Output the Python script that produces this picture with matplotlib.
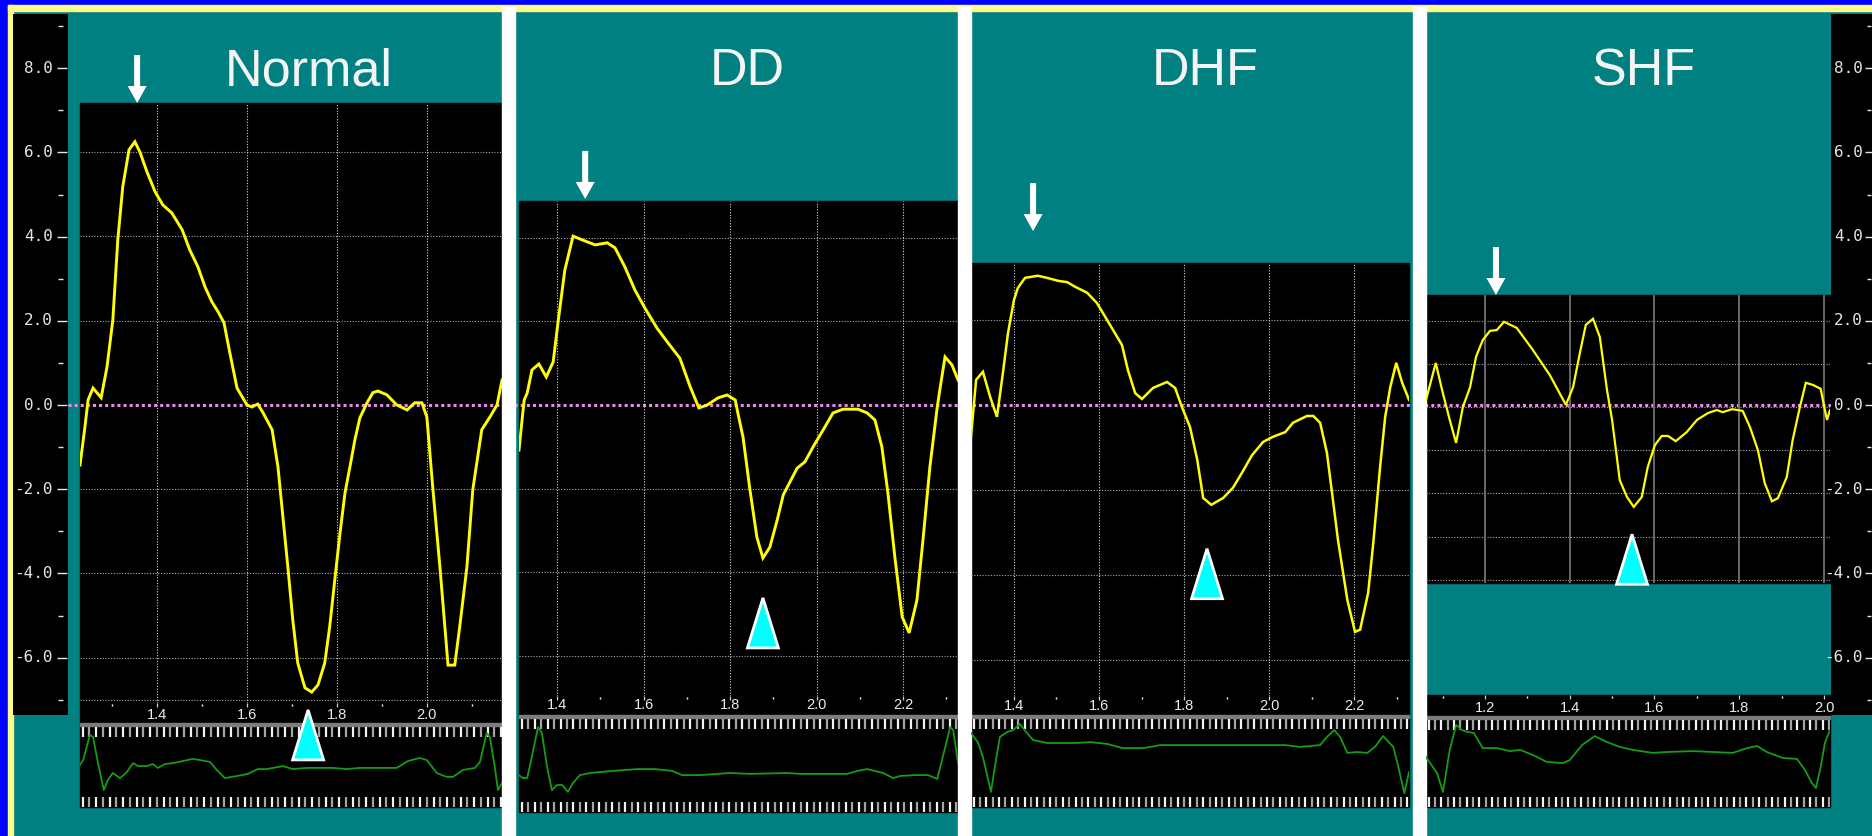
import matplotlib
matplotlib.use('Agg')
import matplotlib.pyplot as plt
import matplotlib.transforms as mtransforms
from matplotlib.patches import Rectangle, Polygon
from matplotlib.lines import Line2D
import numpy as np

W, H = 1872, 836
TEAL = '#008080'

# ---- tissue velocity traces (time s, velocity cm/s) ----
normal_t = [1.229, 1.240, 1.247, 1.258, 1.276, 1.289, 1.302, 1.313, 1.324, 1.338,
            1.351, 1.362, 1.378, 1.396, 1.413, 1.433, 1.456, 1.473, 1.491, 1.507,
            1.522, 1.536, 1.549, 1.562, 1.578, 1.600, 1.611, 1.624, 1.636, 1.656,
            1.669, 1.680, 1.691, 1.702, 1.713, 1.729, 1.744, 1.758, 1.773, 1.784,
            1.796, 1.807, 1.818, 1.829, 1.840, 1.851, 1.867, 1.880, 1.891, 1.911,
            1.933, 1.956, 1.973, 1.989, 2.000, 2.013, 2.029, 2.040, 2.047, 2.062,
            2.073, 2.089, 2.102, 2.122, 2.140, 2.156, 2.167]
normal_v = [-1.43, -0.52, 0.12, 0.40, 0.17, 0.90, 2.02, 3.92, 5.18, 6.06,
            6.25, 6.01, 5.53, 5.06, 4.75, 4.56, 4.16, 3.68, 3.28, 2.80,
            2.45, 2.21, 1.95, 1.24, 0.40, 0.0, -0.05, 0.02, -0.19, -0.59,
            -1.47, -2.66, -3.85, -5.11, -6.13, -6.72, -6.82, -6.65, -6.13, -5.27,
            -4.09, -3.04, -2.09, -1.47, -0.83, -0.31, 0.05, 0.29, 0.33, 0.24,
            0.0, -0.12, 0.05, 0.05, -0.29, -1.95, -3.85, -5.27, -6.18, -6.18,
            -5.27, -3.85, -2.02, -0.59, -0.29, 0.0, 0.59]

dd_t = [1.312, 1.319, 1.324, 1.331, 1.342, 1.358, 1.375, 1.391, 1.402, 1.418,
        1.437, 1.458, 1.488, 1.516, 1.534, 1.557, 1.580, 1.603, 1.631, 1.657,
        1.684, 1.708, 1.728, 1.747, 1.772, 1.793, 1.812, 1.818, 1.830, 1.846,
        1.862, 1.876, 1.892, 1.909, 1.923, 1.955, 1.973, 1.992, 2.015, 2.038,
        2.061, 2.096, 2.117, 2.135, 2.151, 2.165, 2.181, 2.198, 2.214, 2.232,
        2.246, 2.262, 2.279, 2.286, 2.297, 2.313, 2.327]
dd_v = [-1.08, -0.36, 0.12, 0.29, 0.84, 0.98, 0.67, 1.03, 1.96, 3.23,
        4.04, 3.95, 3.83, 3.88, 3.76, 3.30, 2.75, 2.32, 1.84, 1.48,
        1.12, 0.43, -0.07, 0.0, 0.17, 0.24, 0.12, -0.19, -0.77, -2.03,
        -3.16, -3.66, -3.40, -2.75, -2.15, -1.51, -1.36, -1.00, -0.60, -0.19,
        -0.10, -0.10, -0.19, -0.36, -1.00, -2.11, -3.64, -5.07, -5.45, -4.67,
        -3.23, -1.48, -0.05, 0.43, 1.15, 0.96, 0.60]

dhf_t = [1.299, 1.304, 1.311, 1.327, 1.344, 1.360, 1.374, 1.386, 1.400, 1.409,
         1.426, 1.456, 1.478, 1.504, 1.525, 1.544, 1.572, 1.595, 1.619, 1.654,
         1.668, 1.685, 1.701, 1.727, 1.760, 1.779, 1.795, 1.814, 1.831, 1.845,
         1.864, 1.892, 1.915, 1.936, 1.960, 1.986, 2.009, 2.038, 2.056, 2.089,
         2.104, 2.120, 2.136, 2.148, 2.162, 2.184, 2.202, 2.214, 2.233, 2.245,
         2.261, 2.273, 2.285, 2.299, 2.313, 2.329]
dhf_v = [-0.75, -0.19, 0.59, 0.78, 0.19, -0.28, 0.75, 1.69, 2.47, 2.75,
         2.99, 3.04, 2.99, 2.92, 2.89, 2.78, 2.64, 2.40, 2.00, 1.41,
         0.82, 0.28, 0.14, 0.40, 0.54, 0.40, -0.05, -0.52, -1.29, -2.19,
         -2.35, -2.19, -1.95, -1.60, -1.18, -0.87, -0.75, -0.64, -0.42, -0.26,
         -0.26, -0.42, -1.13, -2.07, -3.18, -4.59, -5.34, -5.29, -4.42, -3.25,
         -1.46, -0.28, 0.42, 0.99, 0.52, 0.12]

shf_t = [1.061, 1.084, 1.099, 1.117, 1.132, 1.148, 1.165, 1.179, 1.195, 1.212,
         1.228, 1.245, 1.275, 1.313, 1.353, 1.391, 1.408, 1.424, 1.438, 1.455,
         1.471, 1.488, 1.500, 1.518, 1.535, 1.551, 1.570, 1.584, 1.601, 1.617,
         1.632, 1.650, 1.676, 1.700, 1.726, 1.747, 1.761, 1.783, 1.808, 1.825,
         1.844, 1.860, 1.877, 1.891, 1.912, 1.926, 1.943, 1.957, 1.974, 1.992,
         2.002, 2.007, 2.014]
shf_v = [0.16, 1.02, 0.39, -0.30, -0.83, 0.0, 0.46, 1.16, 1.55, 1.76,
         1.78, 1.97, 1.83, 1.32, 0.74, 0.05, 0.46, 1.25, 1.90, 2.04,
         1.62, 0.39, -0.30, -1.69, -2.08, -2.31, -2.08, -1.39, -0.88, -0.67,
         -0.67, -0.79, -0.58, -0.30, -0.14, -0.07, -0.12, -0.05, -0.09, -0.46,
         -1.00, -1.76, -2.18, -2.11, -1.62, -0.76, 0.0, 0.56, 0.51, 0.42,
         -0.07, -0.30, -0.07]

# ---- ECG strips (arbitrary units) ----
normal_ecg_t = [1.229, 1.236, 1.251, 1.258, 1.269, 1.282, 1.291, 1.302, 1.318, 1.333,
                1.347, 1.358, 1.378, 1.391, 1.402, 1.418, 1.436, 1.458, 1.480, 1.496,
                1.518, 1.533, 1.551, 1.578, 1.602, 1.624, 1.644, 1.680, 1.702, 1.733,
                1.762, 1.791, 1.822, 1.851, 1.933, 1.958, 1.984, 2.000, 2.022, 2.044,
                2.058, 2.080, 2.107, 2.118, 2.133, 2.140, 2.151, 2.158, 2.167]
normal_ecg = [0.17, 0.33, 1.17, 1.10, 0.23, -0.67, -0.33, -0.10, -0.27, -0.07,
              0.23, 0.13, 0.13, 0.20, 0.07, 0.20, 0.23, 0.30, 0.37, 0.33,
              0.27, 0.0, -0.27, -0.20, -0.13, 0.03, 0.03, 0.13, 0.03, 0.07,
              0.07, 0.07, 0.03, 0.07, 0.07, 0.30, 0.40, 0.33, -0.10, -0.23,
              -0.23, 0.0, 0.07, 0.27, 1.23, 1.10, 0.10, -0.67, -0.43]

dd_ecg_t = [1.312, 1.321, 1.331, 1.345, 1.356, 1.365, 1.377, 1.388, 1.400, 1.412,
            1.425, 1.437, 1.453, 1.476, 1.529, 1.585, 1.627, 1.666, 1.689, 1.731,
            1.800, 1.846, 1.932, 1.962, 2.071, 2.094, 2.117, 2.154, 2.177, 2.193,
            2.228, 2.258, 2.279, 2.290, 2.309, 2.316, 2.327]
dd_ecg = [-0.17, -0.27, -0.27, 0.67, 1.43, 1.23, 0.10, -0.67, -0.50, -0.50,
          -0.73, -0.43, -0.17, -0.10, -0.03, 0.03, 0.03, -0.03, -0.17, -0.17,
          -0.10, -0.13, -0.10, -0.13, -0.13, -0.03, 0.03, -0.10, -0.27, -0.20,
          -0.17, -0.17, -0.30, 0.33, 1.43, 1.33, 0.23]

dhf_ecg_t = [1.299, 1.315, 1.327, 1.346, 1.355, 1.367, 1.384, 1.398, 1.414, 1.431,
             1.445, 1.478, 1.548, 1.579, 1.619, 1.656, 1.704, 1.744, 1.821, 1.901,
             2.038, 2.073, 2.120, 2.136, 2.153, 2.167, 2.184, 2.207, 2.231, 2.249,
             2.268, 2.292, 2.304, 2.318, 2.329]
dhf_ecg = [1.23, 0.93, 0.43, -0.73, 0.10, 1.10, 1.27, 1.33, 1.53, 1.23,
           1.00, 0.90, 0.90, 0.93, 0.87, 0.73, 0.73, 0.83, 0.83, 0.83,
           0.83, 0.77, 0.83, 1.10, 1.33, 1.10, 0.57, 0.60, 0.57, 0.77,
           1.13, 0.77, 0.10, -0.77, -0.07]

shf_ecg_t = [1.061, 1.087, 1.101, 1.117, 1.132, 1.146, 1.160, 1.174, 1.195, 1.228,
             1.259, 1.283, 1.313, 1.346, 1.384, 1.400, 1.429, 1.459, 1.488, 1.518,
             1.549, 1.596, 1.629, 1.691, 1.785, 1.818, 1.842, 1.865, 1.903, 1.936,
             1.955, 1.971, 1.981, 1.992, 2.002, 2.014]
shf_ecg = [0.43, -0.10, -0.73, 0.67, 1.50, 1.33, 1.27, 1.23, 0.73, 0.73,
           0.63, 0.67, 0.50, 0.27, 0.23, 0.33, 0.83, 1.13, 0.93, 0.77,
           0.67, 0.57, 0.60, 0.63, 0.57, 0.73, 0.80, 0.60, 0.40, 0.37,
           0.0, -0.43, -0.60, 0.10, 0.90, 1.33]

titles = ['Normal', 'DD', 'DHF', 'SHF']
traces = [(normal_t, normal_v), (dd_t, dd_v), (dhf_t, dhf_v), (shf_t, shf_v)]
ecgs = [(normal_ecg_t, normal_ecg), (dd_ecg_t, dd_ecg), (dhf_ecg_t, dhf_ecg), (shf_ecg_t, shf_ecg)]

# Sm peak arrows (tip) and Am trough triangles (apex)
sm_t = [1.356, 1.465, 1.445, 1.226]
sm_v = [7.17, 4.93, 4.09, 2.59]
am_t = [1.736, 1.876, 1.854, 1.547]
am_v = [-7.22, -4.59, -3.36, -2.92]

x_major = [[1.4, 1.6, 1.8, 2.0], [1.4, 1.6, 1.8, 2.0, 2.2],
           [1.4, 1.6, 1.8, 2.0, 2.2], [1.2, 1.4, 1.6, 1.8, 2.0]]
x_minor = [[1.3, 1.5, 1.7, 1.9, 2.1], [1.5, 1.7, 1.9, 2.1, 2.3],
           [1.5, 1.7, 1.9, 2.1, 2.3], [1.1, 1.3, 1.5, 1.7, 1.9]]
y_grid = [[-7, -6, -4, -2, 2, 4, 6], [-6, -4, -2, 2, 4],
          [-6, -4, -2, 2], [-4, -3, -2, -1, 0, 1, 2]]
axis_major = [-6, -4, -2, 0, 2, 4, 6, 8]
axis_minor = [-7, -5, -3, -1, 1, 3, 5, 7, 9]

# panel layout in pixels
layout = [
    dict(x0=80, x1=502, top=103, bottom=703, strip=703, sep=725, end=807, label_y=715,
         xlim=(1.229, 2.167), ylim=(-7.08, 7.17), title_x=309, lw=2.1,
         black=[(103, 807)], solid_vgrid=False),
    dict(x0=519, x1=958, top=201, bottom=696, strip=696, sep=717, end=812, label_y=705,
         xlim=(1.312, 2.327), ylim=(-6.96, 4.88), title_x=747, lw=2.1,
         black=[(201, 812)], solid_vgrid=False),
    dict(x0=971, x1=1409, top=263, bottom=696, strip=696, sep=717, end=807, label_y=706,
         xlim=(1.299, 2.329), ylim=(-6.85, 3.34), title_x=1205, lw=1.8,
         black=[(263, 807)], solid_vgrid=False),
    dict(x0=1426, x1=1830, top=295, bottom=583, strip=695, sep=718, end=807, label_y=708,
         xlim=(1.061, 2.014), ylim=(-4.07, 2.59), title_x=1644, lw=1.6,
         black=[(295, 583), (695, 807)], solid_vgrid=True),
]

fig = plt.figure(figsize=(W / 100, H / 100), dpi=100)
fig.patch.set_facecolor(TEAL)


def px_axes(x0, y0, x1, y1, z):
    return fig.add_axes([x0 / W, 1 - y1 / H, (x1 - x0) / W, (y1 - y0) / H], zorder=z)


def px_shape(ax, t, v, verts, **kw):
    # polygon given in pixel offsets around a data point
    trans = fig.dpi_scale_trans + mtransforms.ScaledTranslation(t, v, ax.transData)
    ax.add_patch(Polygon(np.array(verts) / 100.0, closed=True, transform=trans,
                         clip_on=False, **kw))


# background: frame, black screens, titles
bg = fig.add_axes([0, 0, 1, 1], zorder=0)
bg.set_xlim(0, W)
bg.set_ylim(H, 0)
bg.axis('off')
bg.add_patch(Rectangle((0, 0), W, 5, color='#0000ff'))
bg.add_patch(Rectangle((0, 0), 8, H, color='#0000ff'))
bg.add_patch(Rectangle((8, 5), W - 8, 6, color='#fbfb8c'))
bg.add_patch(Rectangle((8, 5), 5, H - 5, color='#fbfb8c'))
for i, L in enumerate(layout):
    for (y0, y1) in L['black']:
        bg.add_patch(Rectangle((L['x0'], y0), L['x1'] - L['x0'], y1 - y0, color='black'))
    bg.add_patch(Rectangle((L['x0'], L['sep'] - 2), L['x1'] - L['x0'], 3, color='#7c7c7c'))
    bg.text(L['title_x'], 85, titles[i], fontsize=37.5, color='#f4f4f4', ha='center',
            va='baseline', family='Liberation Sans')

# velocity scales at both sides
scale_px = 42.1
zero_px = 405
for (x0, x1, lab_x, tk) in [(13, 68, 40, (44, 54, 45, 50)), (1831, 1872, 32, (34, 41, 36, 40))]:
    sa = px_axes(x0, 14, x1, 715, 1)
    sa.set_facecolor('black')
    sa.set_xlim(0, x1 - x0)
    sa.set_ylim((zero_px - 715) / scale_px, (zero_px - 14) / scale_px)
    sa.set_xticks([])
    sa.set_yticks([])
    for s in sa.spines.values():
        s.set_visible(False)
    for v in axis_major:
        sa.text(lab_x, v, f'{v:.1f}', color='#e4e4e4', fontsize=11.5,
                family='DejaVu Sans Mono', ha='right', va='center')
    sa.hlines(axis_major, tk[0], tk[1], color='#e4e4e4', lw=1.0)
    sa.hlines(axis_minor, tk[2], tk[3], color='#e4e4e4', lw=1.0)
    if x0 == 13:
        zero_ax = sa

# pink zero line running across the whole display
zl = Line2D([68 / W, 1831 / W], [0, 0],
            transform=mtransforms.blended_transform_factory(fig.transFigure, zero_ax.transData),
            color='#e68ae8', lw=2.2, ls=(0, (1, 1)), clip_on=False)
zero_ax.add_line(zl)

# white separators between the four screenshots
st = fig.add_axes([0, 0, 1, 1], zorder=2)
st.set_xlim(0, W)
st.set_ylim(H, 0)
st.axis('off')
for xs in [502, 958, 1413]:
    st.add_patch(Rectangle((xs, 7), 13, H - 7, color='white'))

arrow = [(0, 0), (-9.5, 17), (-3, 17), (-3, 48), (3, 48), (3, 17), (9.5, 17)]
tri = [(0, -1), (-15.5, -51), (15.5, -51)]

for i, L in enumerate(layout):
    # ECG strip
    ex = px_axes(L['x0'], L['sep'] - 1, L['x1'], L['end'], 3)
    ex.set_axis_off()
    ex.set_xlim(L['xlim'])
    ex.set_ylim((770 - L['end']) / 30, (770 - L['sep'] + 1) / 30)
    h = L['end'] - L['sep'] + 1
    ticks = np.arange(L['xlim'][0] + 0.006, L['xlim'][1], 0.015)
    cols = ['#f2f2f2' if k % 2 == 0 else '#a4a4a4' for k in range(len(ticks))]
    xt = ex.get_xaxis_transform()
    ex.vlines(ticks, 1 - 13 / h, 1 - 3 / h, colors=cols, lw=1.6, transform=xt)
    ex.vlines(ticks, 0, 10 / h, colors=cols, lw=1.6, transform=xt)
    ex.plot(ecgs[i][0], ecgs[i][1], color='#149c14', lw=1.3)

    # time labels
    sx = px_axes(L['x0'], L['strip'], L['x1'], L['sep'] - 2, 3)
    sx.set_axis_off()
    sx.set_xlim(L['xlim'])
    sx.set_ylim(L['sep'] - 2, L['strip'])
    for t in x_major[i]:
        sx.text(t, L['label_y'], f'{t:.1f}', ha='center', va='center', color='#ececec',
                fontsize=10.5, family='Liberation Sans')
    sx.vlines(x_major[i], L['strip'], L['strip'] + 4, color='#d0d0d0', lw=0.9)
    sx.vlines(x_minor[i], L['strip'] + 1, L['strip'] + 3, color='white', lw=1.0)

    # velocity plot
    ax = px_axes(L['x0'], L['top'], L['x1'], L['bottom'], 4)
    ax.set_axis_off()
    ax.set_xlim(L['xlim'])
    ax.set_ylim(L['ylim'])
    for g in y_grid[i]:
        ax.axhline(g, color='#ababab', lw=0.8, ls=(0, (1, 1.5)))
    for g in x_major[i]:
        if L['solid_vgrid']:
            ax.axvline(g, color='#707070', lw=1.3)
        else:
            ax.axvline(g, color='#d4d4d4', lw=0.8, ls=(0, (1, 1.5)))
    ax.plot(traces[i][0], traces[i][1], color='#ffff00', lw=L['lw'], solid_joinstyle='miter')

    px_shape(ax, sm_t[i], sm_v[i], arrow, facecolor='white', edgecolor='none', zorder=6)
    px_shape(ax, am_t[i], am_v[i], tri, facecolor='#00ffff', edgecolor='white',
             lw=2.0, joinstyle='miter', zorder=6)

fig.savefig('out.png', dpi=100, facecolor=TEAL)
